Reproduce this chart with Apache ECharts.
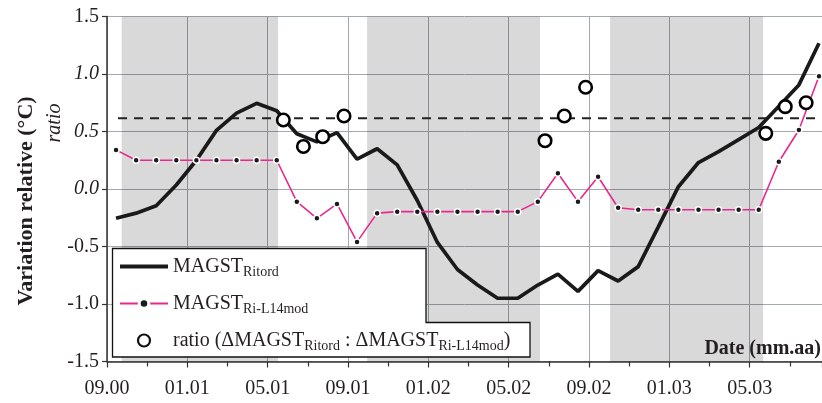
<!DOCTYPE html>
<html><head><meta charset="utf-8">
<script src="https://cdn.jsdelivr.net/npm/echarts@6/dist/echarts.min.js"></script>
<style>html,body{margin:0;padding:0;background:#fff}#c{width:822px;height:403px}</style>
</head><body><div id="c"></div>
<script>
// x axis in months since Sept 2000
const xTickLabels = ['09.00','01.01','05.01','09.01','01.02','05.02','09.02','01.03','05.03'];
const yTickLabels = ['-1.5','-1.0','-0.5','0.0','0.5','1.0','1.5'];
const italicTicks = ['0.0','0.5','1.0'];
// monthly values (one per month, mid-month)
const magstRitord = [-0.255,-0.21,-0.145,0.035,0.25,0.51,0.66,0.745,0.68,0.48,0.41,0.49,
  0.26,0.35,0.21,-0.10,-0.465,-0.70,-0.835,-0.95,-0.95,-0.835,-0.74,-0.89,
  -0.71,-0.80,-0.675,-0.33,0.02,0.23,0.325,0.43,0.535,0.72,0.905,1.267];
const magstRiL14mod = [0.34,0.25,0.25,0.25,0.25,0.25,0.25,0.25,0.25,-0.11,-0.255,-0.13,
  -0.46,-0.21,-0.197,-0.197,-0.197,-0.197,-0.197,-0.197,-0.197,-0.11,0.137,-0.11,
  0.107,-0.163,-0.18,-0.18,-0.18,-0.18,-0.18,-0.18,-0.18,0.237,0.513,0.98];
const ratioMonths = [8.78,9.78,10.74,11.80,21.81,22.77,23.83,32.80,33.77,34.81];
const ratioValues = [0.60,0.37,0.455,0.635,0.42,0.635,0.885,0.484,0.716,0.75];
const ratioMean = 0.615;
const ratioMeanSpan = [0.55, 35.6];
const coldBands = [[0.73,8.52],[12.95,21.56],[25.05,32.67]];
const monthOffset = 0.45;

const SERIF = '"Liberation Serif", "DejaVu Serif", serif';
const TXT = '#231f20';
const toXY = arr => arr.map((v,i)=>[i+monthOffset, v]);

const chart = echarts.init(document.getElementById('c'));
chart.setOption({
  animation:false,
  backgroundColor:'#fff',
  grid:{left:107, right:0, top:16.5, bottom:41.5, containLabel:false},
  xAxis:{type:'value', min:0, max:35.6, interval:4,
    axisLine:{show:true, onZero:false, lineStyle:{color:'#333', width:1.5}},
    axisTick:{show:true, length:6, lineStyle:{color:'#333', width:1.2}},
    minorTick:{show:true, splitNumber:2, length:5, lineStyle:{color:'#333', width:1.2}},
    axisLabel:{showMaxLabel:false, margin:17, fontFamily:SERIF, fontSize:20, color:TXT,
      formatter:v=>{const k=Math.round(v/4); return (Math.abs(v-k*4)<1e-6 && xTickLabels[k])?xTickLabels[k]:'';}},
    splitLine:{show:true, lineStyle:{color:'#a3a9b0', width:1}}
  },
  yAxis:{type:'value', min:-1.5, max:1.5, interval:0.5,
    axisLine:{show:true, lineStyle:{color:'#333', width:1.5}},
    axisTick:{show:true, length:5, lineStyle:{color:'#333', width:1.2}},
    axisLabel:{margin:8, fontFamily:SERIF, fontSize:20, color:TXT,
      formatter:v=>{const t=yTickLabels[Math.round(v*2)+3]; return italicTicks.includes(t)?'{it|'+t+'}':t;},
      rich:{it:{fontFamily:SERIF, fontSize:20, fontStyle:'italic', color:TXT}}},
    splitLine:{show:true, lineStyle:{color:'#a3a9b0', width:1}}
  },
  legend:{orient:'vertical', left:113, top:249, itemWidth:48, itemHeight:12, itemGap:12,
    selectedMode:false,
    data:[
      {name:'MAGST_Ritord', itemStyle:{opacity:0}, lineStyle:{width:4, color:'#1a1a1a'}},
      {name:'MAGST_Ri-L14mod', itemStyle:{color:'#1a1a1a', borderColor:'#fff', borderWidth:3}},
      {name:'ratio', itemStyle:{color:'#fff', borderColor:'#111', borderWidth:2.2}}
    ],
    formatter:n=>{
      if(n==='MAGST_Ritord') return '{m|MAGST}{s|Ritord}';
      if(n==='MAGST_Ri-L14mod') return '{m|MAGST}{s|Ri-L14mod}';
      return '{m|ratio (ΔMAGST}{s|Ritord}{m| : ΔMAGST}{s|Ri-L14mod}{m|)}';
    },
    textStyle:{fontFamily:SERIF, fontSize:20, color:TXT,
      rich:{m:{fontFamily:SERIF, fontSize:20, color:TXT, lineHeight:27},
            s:{fontFamily:SERIF, fontSize:14, color:TXT, lineHeight:27, padding:[11,0,0,0]}}}
  },
  graphic:[
    {type:'polygon', z:3, silent:true,
      shape:{points:[[112.5,248.5],[426,248.5],[426,322.5],[530,322.5],[530,357],[112.5,357]]},
      style:{fill:'#fff', stroke:'#111', lineWidth:1.3}},
    {type:'text', z:3, x:26, y:201, rotation:Math.PI/2, silent:true,
      style:{text:'Variation relative (°C)', font:'bold 22px '+SERIF, fill:TXT, align:'center', verticalAlign:'middle'}},
    {type:'text', z:3, x:55, y:123, rotation:Math.PI/2, silent:true,
      style:{text:'ratio', font:'italic 20px '+SERIF, fill:TXT, align:'center', verticalAlign:'middle'}},
    {type:'text', z:3, right:1, top:339, silent:true,
      style:{text:'Date (mm.aa)', font:'bold 20px '+SERIF, fill:TXT}}
  ],
  series:[
    {type:'line', name:'bands', z:1, data:[], silent:true,
      markArea:{silent:true, itemStyle:{color:'rgba(0,0,0,0.15)'},
        data:coldBands.map(b=>[{xAxis:b[0]},{xAxis:b[1]}])}},
    {type:'line', name:'ratioMean', z:2, data:ratioMeanSpan.map(x=>[x, ratioMean]), symbol:'none',
      lineStyle:{color:'#222', width:2, type:[9,7]}, silent:true},
    {type:'line', name:'MAGST_Ritord', z:2, data:toXY(magstRitord), symbol:'none',
      lineStyle:{color:'#1a1a1a', width:3.7}, itemStyle:{color:'#1a1a1a'}},
    {type:'line', name:'MAGST_Ri-L14mod', z:2, data:toXY(magstRiL14mod), symbol:'circle', symbolSize:6,
      showAllSymbol:true,
      lineStyle:{color:'#e8288f', width:1.6},
      itemStyle:{color:'#1a1a1a', borderColor:'#fff', borderWidth:1.5}},
    {type:'scatter', name:'ratio', z:2, data:ratioMonths.map((x,i)=>[x, ratioValues[i]]),
      symbol:'circle', symbolSize:12.5,
      itemStyle:{color:'#fff', borderColor:'#000', borderWidth:2.6, opacity:1}}
  ]
});
</script></body></html>
